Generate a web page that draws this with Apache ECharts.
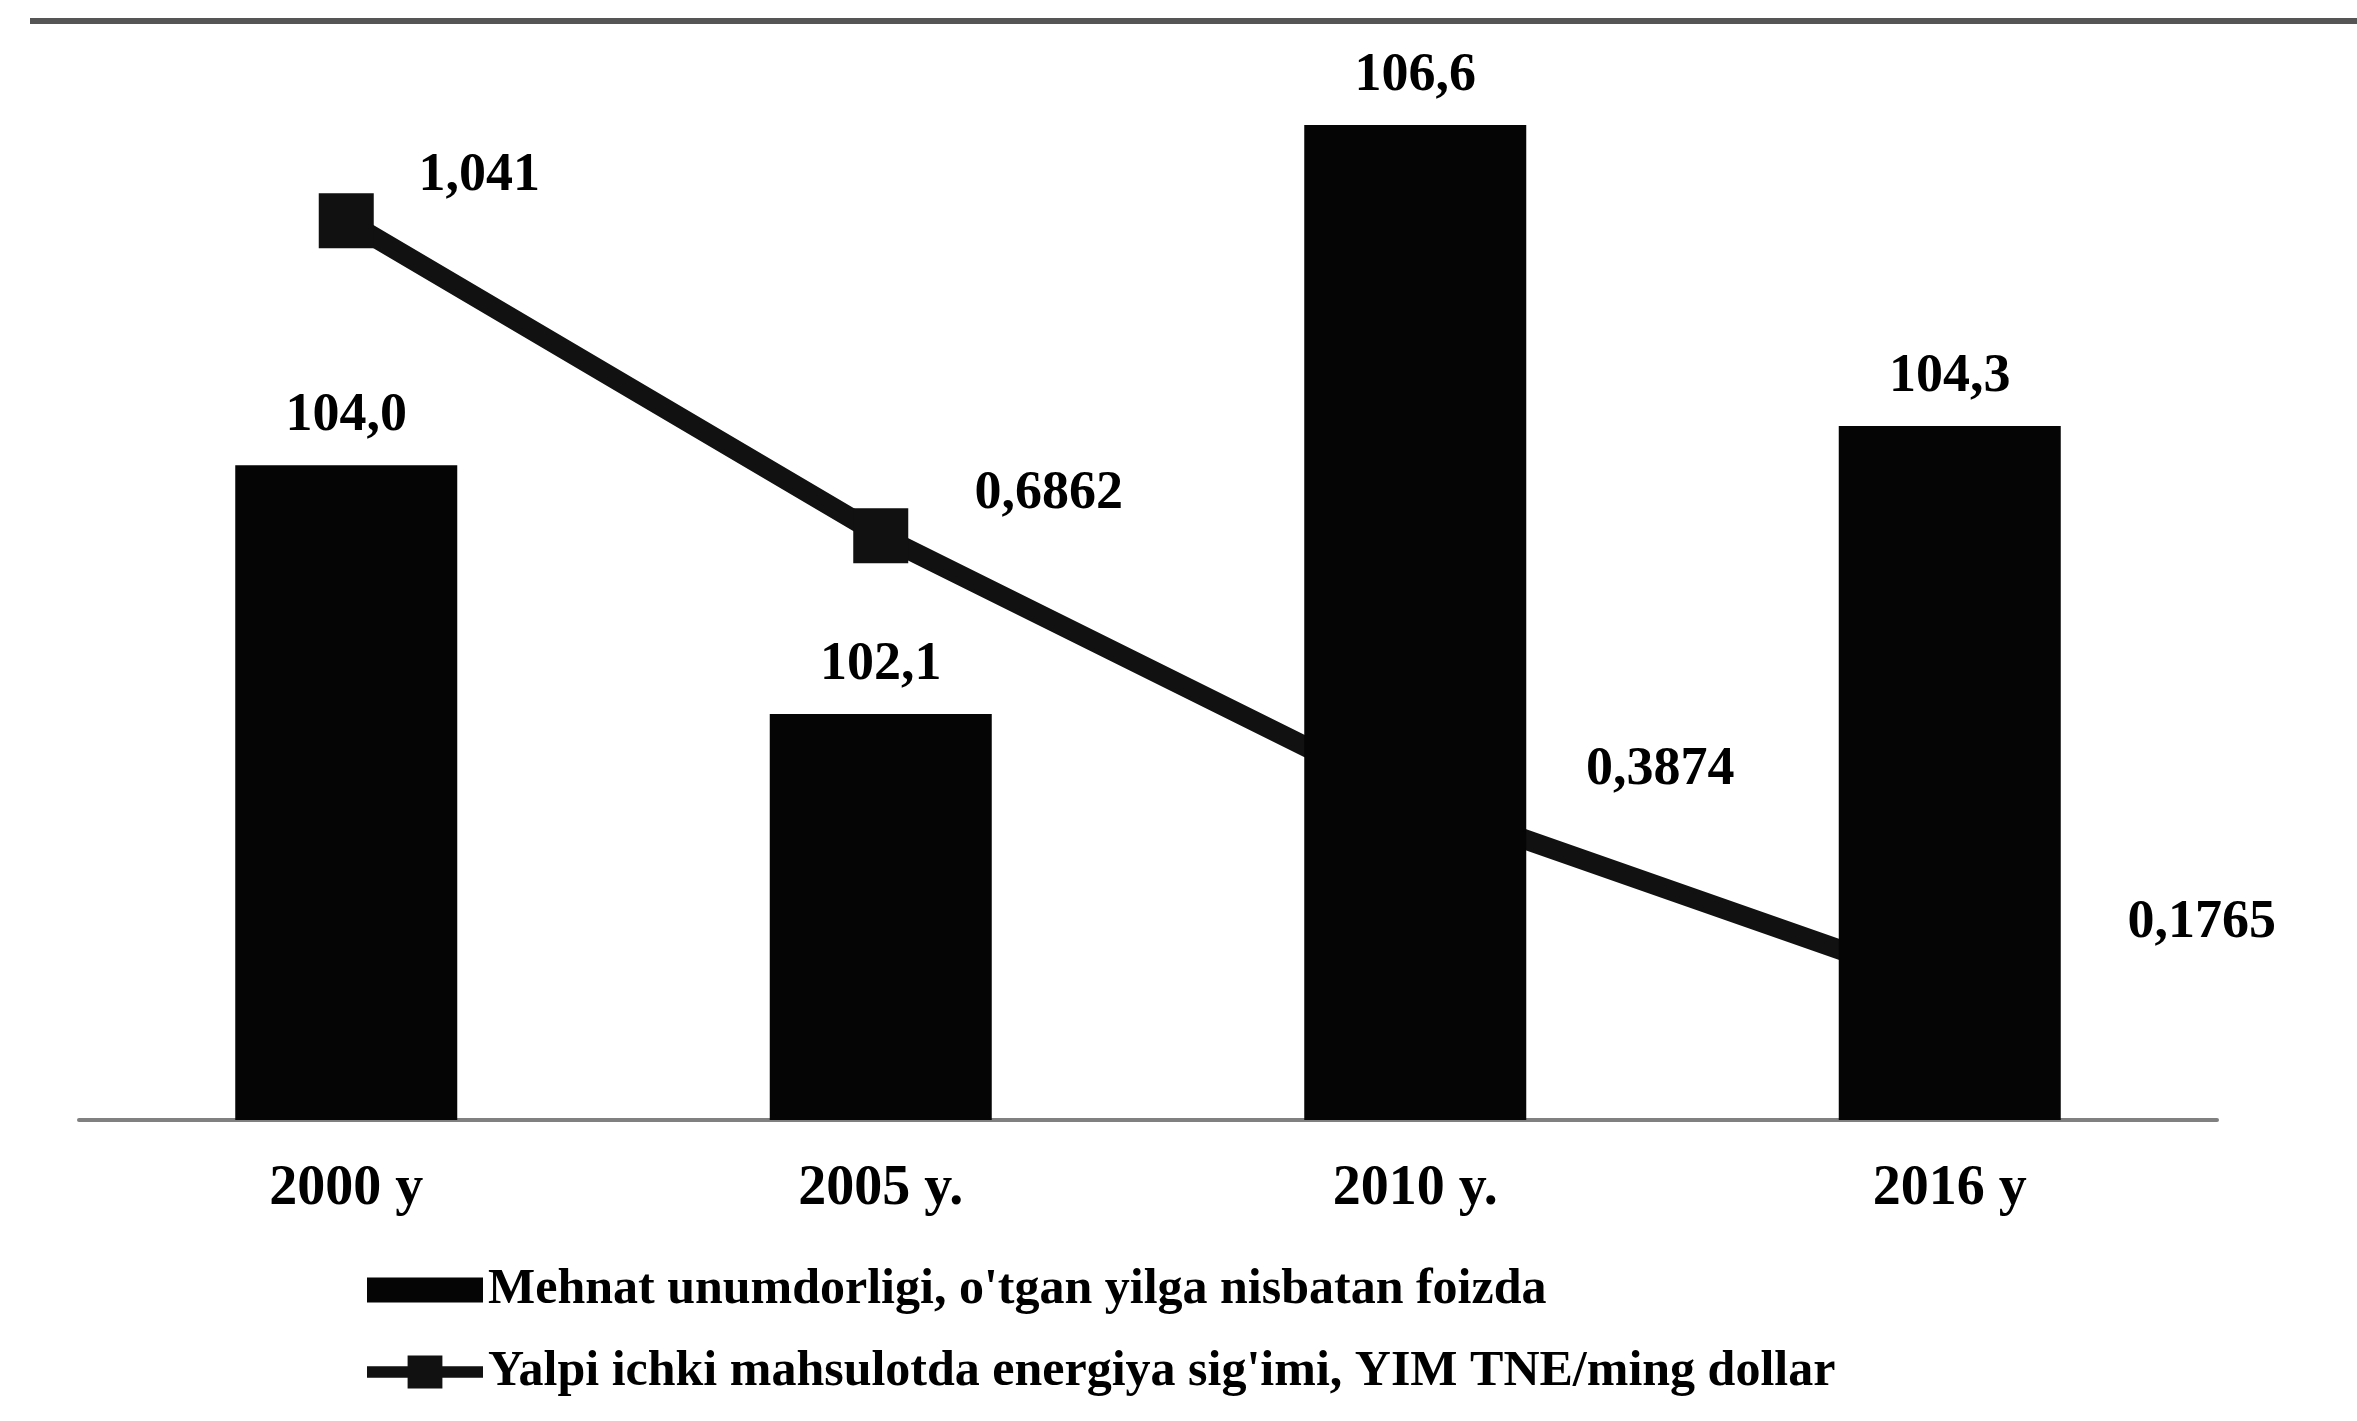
<!DOCTYPE html>
<html>
<head>
<meta charset="utf-8">
<script src="https://cdn.jsdelivr.net/npm/echarts@6/dist/echarts.min.js"></script>
<style>
html,body{margin:0;padding:0;background:#fff;}
#chart{width:2357px;height:1421px;}
</style>
</head>
<body>
<div id="chart"></div>
<script>
const categories = ['2000 y', '2005 y.', '2010 y.', '2016 y'];
const productivity = [104.0, 102.1, 106.6, 104.3];
const energyIntensity = [1.041, 0.6862, 0.3874, 0.1765];
const seriesNames = [
  "Mehnat unumdorligi, o'tgan yilga nisbatan foizda",
  "Yalpi ichki mahsulotda energiya sig'imi, YIM TNE/ming dollar"
];
// label placement (styling, not data)
const lineLabelOffsets = [[133, -45], [168, -42], [245, -31], [252, -65]];

const fmt = (v, d) => v.toFixed(d).replace('.', ',');
const labelFont = {fontFamily: 'Liberation Serif', fontWeight: 'bold', fontSize: 54, color: '#000'};

const chart = echarts.init(document.getElementById('chart'));
chart.setOption({
  backgroundColor: '#fff',
  animation: false,
  graphic: [{
    type: 'rect', left: 30, top: 18, shape: {width: 2327, height: 6},
    style: {fill: '#555'}
  }],
  grid: {left: 79, right: 140, top: 100, bottom: 301},
  legend: {
    orient: 'vertical', left: 362, top: 1258, itemGap: 28,
    itemWidth: 116, itemHeight: 34,
    textStyle: {fontFamily: 'Liberation Serif', fontWeight: 'bold', fontSize: 50, lineHeight: 54, color: '#000'},
    data: [
      {name: seriesNames[0], icon: 'path://M0,4H120V30H0Z'},
      {name: seriesNames[1], icon: 'path://M0,11H42V0H78V11H120V23H78V34H42V23H0Z'}
    ]
  },
  xAxis: {
    type: 'category', data: categories,
    axisLine: {lineStyle: {color: '#808080', width: 4}},
    axisTick: {length: 18, lineStyle: {color: '#808080', width: 3}},
    axisLabel: {margin: 42, fontFamily: 'Liberation Serif', fontWeight: 'bold', fontSize: 56, color: '#000'}
  },
  yAxis: [
    {type: 'value', min: 99, max: 106.79, show: false, splitLine: {show: false}},
    {type: 'value', min: 0.028, max: 1.177, show: false, splitLine: {show: false}}
  ],
  series: [
    {
      name: seriesNames[0], type: 'bar', yAxisIndex: 0, z: 3,
      barWidth: 222,
      itemStyle: {color: '#050505'},
      label: Object.assign({show: true, position: 'top', distance: 22,
        formatter: p => fmt(p.value, 1)}, labelFont),
      data: productivity
    },
    {
      name: seriesNames[1], type: 'line', yAxisIndex: 1, z: 2,
      symbol: 'rect', symbolSize: 55,
      lineStyle: {color: '#111', width: 20},
      itemStyle: {color: '#111'},
      data: energyIntensity.map((v, i) => ({
        value: v,
        label: Object.assign({show: true, position: 'inside', align: 'center', verticalAlign: 'middle',
          offset: lineLabelOffsets[i], formatter: p => fmt(p.value, i === 0 ? 3 : 4)}, labelFont)
      }))
    }
  ]
});
</script>
</body>
</html>
